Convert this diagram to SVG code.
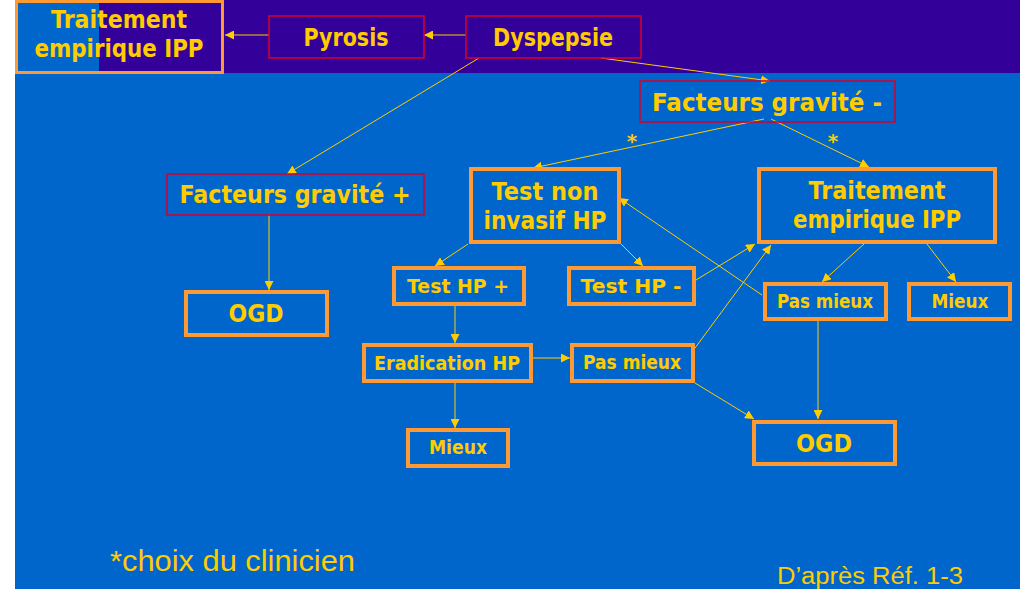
<svg xmlns="http://www.w3.org/2000/svg" width="1020" height="589" viewBox="0 0 1020 589">
<defs>
<style>
.t{font-family:"DejaVu Sans","Liberation Sans",sans-serif;font-weight:bold;fill:#FFCC00;text-anchor:middle}
.big{font-size:24px}
.sm{font-size:19px}
.ogd{font-size:25px}
.red{fill:none;stroke:#D8002A;stroke-width:1.5}
.org{fill:none;stroke:#FF9933;stroke-width:4}
.c line{stroke:#FFCC00;stroke-width:1;marker-end:url(#ah)}
.note{font-family:"Liberation Sans",Arial,sans-serif;fill:#FFCC00}
</style>
<marker id="ah" viewBox="0 0 10 10" refX="10" refY="5" markerWidth="9" markerHeight="9" markerUnits="userSpaceOnUse" orient="auto">
<path d="M0,0 L10,5 L0,10 z" fill="#FFCC00"/>
</marker>
</defs>
<rect x="0" y="0" width="1020" height="589" fill="#FFFFFF"/>
<rect x="15" y="0" width="1005" height="589" fill="#0066CC"/>
<rect x="99" y="0" width="921" height="73" fill="#330099"/>

<g class="c" id="connectors">
<line x1="466" y1="35" x2="424" y2="35"/>
<line x1="269" y1="35" x2="225" y2="35"/>
<line x1="479" y1="58" x2="287" y2="174"/>
<line x1="601" y1="58" x2="770" y2="81"/>
<line x1="764" y1="119" x2="533" y2="168"/>
<line x1="771" y1="119" x2="869" y2="167"/>
<line x1="269" y1="215" x2="269" y2="290"/>
<line x1="468" y1="244" x2="435" y2="266"/>
<line x1="621" y1="244" x2="643" y2="266"/>
<line x1="455" y1="306" x2="455" y2="343"/>
<line x1="455" y1="383" x2="455" y2="428"/>
<line x1="533" y1="358" x2="570" y2="358"/>
<line x1="696" y1="280" x2="755" y2="244"/>
<line x1="695" y1="348" x2="771" y2="245"/>
<line x1="695" y1="383" x2="754" y2="419"/>
<line x1="762" y1="295" x2="619" y2="198"/>
<line x1="864" y1="244" x2="822" y2="282"/>
<line x1="927" y1="244" x2="956" y2="282"/>
<line x1="818" y1="321" x2="818" y2="419"/>
</g>

<g id="traitement-top">
<rect x="16.5" y="1.5" width="206" height="71" fill="none" stroke="#FF9933" stroke-width="3"/>
<text class="t big" x="119" y="28" textLength="136" lengthAdjust="spacingAndGlyphs">Traitement</text>
<text class="t big" x="119" y="57" textLength="169" lengthAdjust="spacingAndGlyphs">empirique IPP</text>
</g>
<g id="pyrosis">
<rect class="red" x="269" y="16" width="155" height="42"/>
<text class="t big" x="346" y="46" textLength="85" lengthAdjust="spacingAndGlyphs">Pyrosis</text>
</g>
<g id="dyspepsie">
<rect class="red" x="466" y="16" width="175" height="42"/>
<text class="t big" x="553" y="46" textLength="120" lengthAdjust="spacingAndGlyphs">Dyspepsie</text>
</g>
<g id="fg-minus">
<rect class="red" x="640" y="81" width="255" height="41"/>
<text class="t big" x="767" y="111" textLength="230" lengthAdjust="spacingAndGlyphs">Facteurs gravité -</text>
</g>
<g id="fg-plus">
<rect class="red" x="167" y="174" width="257" height="41"/>
<text class="t big" x="295" y="203" textLength="231" lengthAdjust="spacingAndGlyphs">Facteurs gravité +</text>
</g>
<g id="stars">
<text class="t" style="font-size:20px" x="632" y="148">*</text>
<text class="t" style="font-size:20px" x="833" y="148">*</text>
</g>
<g id="test-non-invasif">
<rect class="org" x="471" y="169" width="148" height="73"/>
<text class="t big" x="545" y="200" textLength="107" lengthAdjust="spacingAndGlyphs">Test non</text>
<text class="t big" x="545" y="229" textLength="123" lengthAdjust="spacingAndGlyphs">invasif HP</text>
</g>
<g id="traitement-right">
<rect class="org" x="759" y="169" width="236" height="73"/>
<text class="t big" x="877" y="199" textLength="137" lengthAdjust="spacingAndGlyphs">Traitement</text>
<text class="t big" x="877" y="228" textLength="168" lengthAdjust="spacingAndGlyphs">empirique IPP</text>
</g>
<g id="ogd-left">
<rect class="org" x="186" y="292" width="141" height="43"/>
<text class="t ogd" x="256" y="322" textLength="55" lengthAdjust="spacingAndGlyphs">OGD</text>
</g>
<g id="test-hp-plus">
<rect class="org" x="394" y="268" width="130" height="36"/>
<text class="t sm" x="458" y="293" textLength="102" lengthAdjust="spacingAndGlyphs">Test HP +</text>
</g>
<g id="test-hp-minus">
<rect class="org" x="569" y="268" width="125" height="36"/>
<text class="t sm" x="631" y="293" textLength="101" lengthAdjust="spacingAndGlyphs">Test HP -</text>
</g>
<g id="eradication">
<rect class="org" x="364" y="345" width="167" height="36"/>
<text class="t sm" x="447" y="370" textLength="146" lengthAdjust="spacingAndGlyphs">Eradication HP</text>
</g>
<g id="pas-mieux-mid">
<rect class="org" x="572" y="345" width="121" height="36"/>
<text class="t sm" x="632" y="369" textLength="98" lengthAdjust="spacingAndGlyphs">Pas mieux</text>
</g>
<g id="mieux-bottom">
<rect class="org" x="408" y="430" width="100" height="36"/>
<text class="t sm" x="458" y="454" textLength="58" lengthAdjust="spacingAndGlyphs">Mieux</text>
</g>
<g id="pas-mieux-right">
<rect class="org" x="765" y="284" width="121" height="35"/>
<text class="t sm" x="825" y="308" textLength="96" lengthAdjust="spacingAndGlyphs">Pas mieux</text>
</g>
<g id="mieux-right">
<rect class="org" x="909" y="284" width="101" height="35"/>
<text class="t sm" x="960" y="308" textLength="57" lengthAdjust="spacingAndGlyphs">Mieux</text>
</g>
<g id="ogd-right">
<rect class="org" x="754" y="422" width="141" height="42"/>
<text class="t ogd" x="824" y="452" textLength="56" lengthAdjust="spacingAndGlyphs">OGD</text>
</g>

<text class="note" x="110" y="571" font-size="30" textLength="245" lengthAdjust="spacingAndGlyphs">*choix du clinicien</text>
<text class="note" x="777" y="584" font-size="23" textLength="186" lengthAdjust="spacingAndGlyphs">D’après Réf. 1-3</text>
</svg>
